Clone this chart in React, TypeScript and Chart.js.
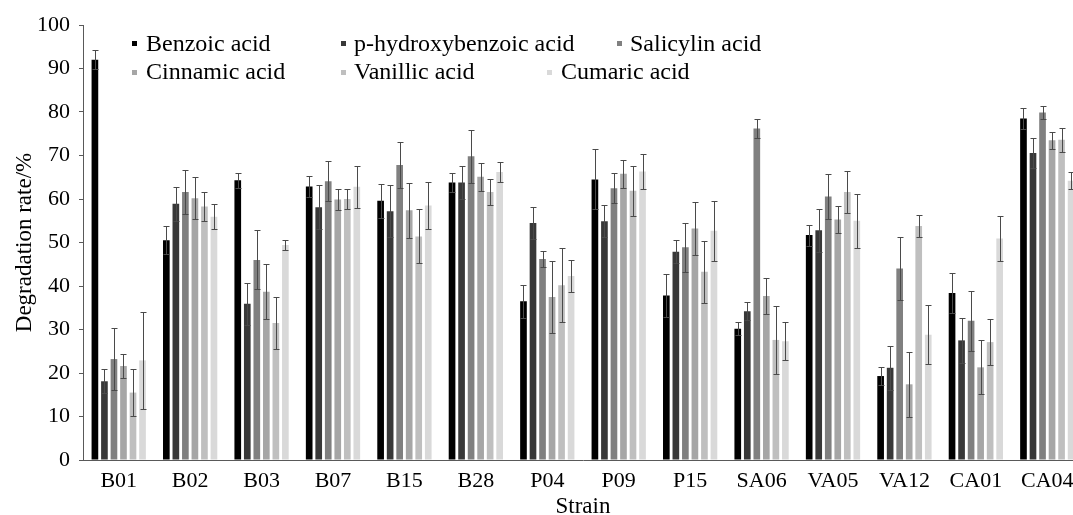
import React, { useEffect, useRef } from "react";
import { Chart, registerables } from "chart.js";

Chart.register(...registerables);

const strains = ["B01", "B02", "B03", "B07", "B15", "B28", "P04", "P09", "P15", "SA06", "VA05", "VA12", "CA01", "CA04"];
const seriesNames = ["Benzoic acid", "p-hydroxybenzoic acid", "Salicylin acid", "Cinnamic acid", "Vanillic acid", "Cumaric acid"];
const seriesColors = ["#000000", "#383838", "#808080", "#a6a6a6", "#bfbfbf", "#d9d9d9"];

const benzoic = [92.0, 50.5, 64.3, 62.9, 59.6, 63.8, 36.5, 64.5, 37.8, 30.2, 51.7, 19.3, 38.4, 78.5];
const pHydroxy = [18.1, 58.9, 35.9, 58.1, 57.2, 63.8, 54.5, 54.9, 47.9, 34.2, 52.8, 21.2, 27.5, 70.6];
const salicylin = [23.2, 61.6, 46.0, 64.1, 67.8, 69.8, 46.2, 62.5, 48.9, 76.2, 60.6, 44.0, 32.0, 79.9];
const cinnamic = [21.6, 60.2, 38.7, 59.9, 57.4, 65.1, 37.5, 65.8, 53.2, 37.7, 55.3, 17.4, 21.3, 73.5];
const vanillic = [15.5, 58.3, 31.5, 60.0, 51.4, 61.6, 40.2, 61.9, 43.3, 27.6, 61.6, 53.8, 27.1, 73.6];
const cumaric = [22.9, 55.9, 49.4, 62.8, 58.5, 66.2, 42.3, 66.3, 52.7, 27.3, 55.0, 28.8, 50.9, 64.2];

const benzoicErr = [2.2, 3.2, 1.7, 2.5, 3.9, 2.2, 3.8, 6.9, 4.9, 1.5, 2.4, 2.1, 4.6, 2.5];
const pHydroxyErr = [2.8, 3.9, 4.9, 5.1, 6.0, 3.9, 3.7, 3.7, 2.7, 2.1, 4.9, 5.0, 5.2, 3.4];
const salicylinErr = [7.2, 5.1, 6.8, 4.6, 5.2, 6.1, 1.8, 3.4, 5.6, 2.2, 5.2, 7.2, 6.9, 1.5];
const cinnamicErr = [2.7, 4.8, 6.4, 2.5, 6.3, 3.2, 8.2, 3.2, 6.0, 4.2, 3.1, 7.4, 6.2, 1.9];
const vanillicErr = [5.4, 3.4, 6.0, 2.3, 6.2, 2.9, 8.5, 5.8, 7.1, 7.8, 4.9, 2.6, 5.2, 2.8];
const cumaricErr = [11.2, 2.9, 1.2, 4.9, 5.3, 2.2, 3.7, 4.0, 6.9, 4.4, 6.2, 6.8, 5.1, 1.9];

const yTicks = [0, 10, 20, 30, 40, 50, 60, 70, 80, 90, 100];

const seriesValues = [benzoic, pHydroxy, salicylin, cinnamic, vanillic, cumaric];
const seriesErrors = [benzoicErr, pHydroxyErr, salicylinErr, cinnamicErr, vanillicErr, cumaricErr];

const FONT = '"Liberation Serif", "Times New Roman", serif';

// legend layout (positions of the marker and text for each series)
const legendPos = [
  { mx: 132, my: 41, tx: 146, ty: 51 },
  { mx: 341, my: 41, tx: 354, ty: 51 },
  { mx: 617, my: 41, tx: 630, ty: 51 },
  { mx: 132, my: 70, tx: 146, ty: 79 },
  { mx: 341, my: 70, tx: 354, ty: 79 },
  { mx: 547, my: 70, tx: 561, ty: 79 },
];

const errorBarPlugin = {
  id: "errorBars",
  afterDatasetsDraw(chart: any) {
    const ctx = chart.ctx;
    const yScale = chart.scales.y;
    ctx.save();
    ctx.strokeStyle = "#4a4a4a";
    ctx.lineWidth = 1;
    chart.data.datasets.forEach((ds: any, i: number) => {
      const meta = chart.getDatasetMeta(i);
      meta.data.forEach((el: any, j: number) => {
        const v = ds.data[j];
        const e = ds.errors[j];
        const x = Math.round(el.x) + 0.5;
        const yt = Math.round(yScale.getPixelForValue(v + e)) + 0.5;
        const yb = Math.round(yScale.getPixelForValue(v - e)) + 0.5;
        ctx.beginPath();
        ctx.moveTo(x, yt);
        ctx.lineTo(x, yb);
        ctx.moveTo(x - 3, yt);
        ctx.lineTo(x + 3, yt);
        ctx.moveTo(x - 3, yb);
        ctx.lineTo(x + 3, yb);
        ctx.stroke();
      });
    });
    ctx.restore();
  },
};

const legendPlugin = {
  id: "customLegend",
  afterDraw(chart: any) {
    const ctx = chart.ctx;
    ctx.save();
    ctx.font = `24px ${FONT}`;
    ctx.textBaseline = "alphabetic";
    ctx.textAlign = "left";
    seriesNames.forEach((name, i) => {
      const p = legendPos[i];
      ctx.fillStyle = seriesColors[i];
      ctx.fillRect(p.mx, p.my, 5, 5);
      ctx.fillStyle = "#000000";
      ctx.fillText(name, p.tx, p.ty);
    });
    ctx.restore();
  },
};

export default function App() {
  const ref = useRef<HTMLCanvasElement>(null);

  useEffect(() => {
    if (!ref.current) return;
    const chart = new Chart(ref.current, {
      type: "bar",
      data: {
        labels: strains,
        datasets: seriesNames.map((name, i) => ({
          label: name,
          data: seriesValues[i],
          errors: seriesErrors[i],
          backgroundColor: seriesColors[i],
          borderWidth: 0,
          barPercentage: 0.7,
          categoryPercentage: 0.8,
        })) as any,
      },
      options: {
        responsive: false,
        animation: false,
        devicePixelRatio: 1,
        layout: { padding: { top: 25, right: 7, left: 0, bottom: 0 } },
        plugins: {
          legend: { display: false },
          title: { display: false },
          tooltip: { enabled: false },
        },
        scales: {
          x: {
            grid: { display: true, drawOnChartArea: false, drawTicks: false },
            border: { display: true, color: "#595959", width: 1 },
            ticks: { color: "#000", font: { family: FONT, size: 22 }, padding: 8, maxRotation: 0, autoSkip: false },
            title: { display: true, text: "Strain", color: "#000", font: { family: FONT, size: 23 }, padding: { top: 0, bottom: -1 } },
            afterFit: (s: any) => { s.height = 60; },
          },
          y: {
            min: 0,
            max: 100,
            afterBuildTicks: (s: any) => { s.ticks = yTicks.map((v) => ({ value: v })); },
            grid: { display: true, drawOnChartArea: false, drawTicks: true, tickLength: 4, color: "#595959" },
            border: { display: true, color: "#595959", width: 1 },
            ticks: { color: "#000", font: { family: FONT, size: 22 }, padding: 9 },
            title: { display: true, text: "Degradation rate/%", color: "#000", font: { family: FONT, size: 23 }, padding: { top: 11, bottom: 0 } },
            afterFit: (s: any) => { s.width = 83; },
          },
        },
      } as any,
      plugins: [errorBarPlugin, legendPlugin],
    });
    return () => chart.destroy();
  }, []);

  return (
    <div style={{ position: "fixed", left: 0, top: 0, width: 1073, height: 515, overflow: "hidden", background: "#fff" }}>
      <canvas ref={ref} width={1090} height={520} style={{ display: "block", width: 1090, height: 520 }} />
    </div>
  );
}
